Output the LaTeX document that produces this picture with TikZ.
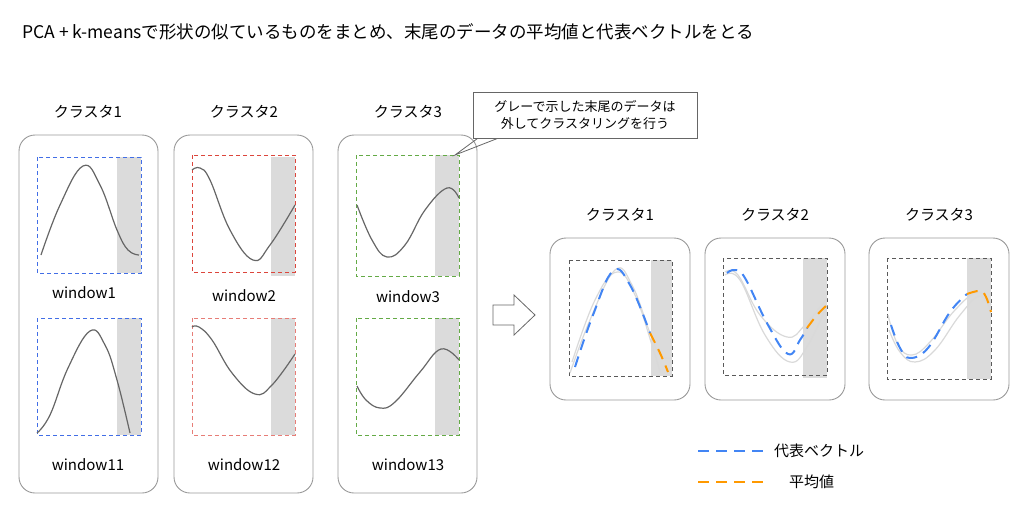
\documentclass[tikz,border=0pt]{standalone}
\usepackage{fontspec}
\setmainfont{Noto Sans CJK JP}
\begin{document}
\begin{tikzpicture}[x=1pt,y=-1pt,
  outer/.style={draw=gray!80,rounded corners=16pt,line width=0.9pt},
  win/.style={dash pattern=on 4pt off 3pt,line width=1pt},
  shade/.style={fill=black!14,draw=none},
  curve/.style={draw=black!60,line width=1.2pt,smooth,tension=0.7},
  faint/.style={draw=black!15,line width=1.2pt,smooth,tension=0.7},
  bluev/.style={color={rgb,255:red,66;green,133;blue,244},line width=2pt,dash pattern=on 11pt off 7pt},
  orangev/.style={color={rgb,255:red,255;green,153;blue,0},line width=2pt,dash pattern=on 11pt off 7pt},
  lbl/.style={font=\fontsize{15}{17}\selectfont,inner sep=0pt},
]
\useasboundingbox (0,0) rectangle (1024,520);
\definecolor{wb}{RGB}{66,110,230}
\definecolor{wr}{RGB}{220,70,60}
\definecolor{wg}{RGB}{100,170,70}
\node[anchor=west,font=\fontsize{17.5}{19}\selectfont,inner sep=0pt] (title) at (22,32) {PCA + k-meansで形状の似ているものをまとめ、末尾のデータの平均値と代表ベクトルをとる};
% left clusters
\draw[outer] (19,135) rectangle (158,493);
\draw[outer] (174,135) rectangle (313,493);
\draw[outer] (338,135) rectangle (477,493);
\node[lbl] (c1) at (88,112) {クラスタ1};
\node[lbl] (c2) at (244,112) {クラスタ2};
\node[lbl] (c3) at (408,112) {クラスタ3};
% windows
\fill[shade] (117,157) rectangle (141,273);
\draw[win,wb] (37,157) rectangle (141,273);
\draw[curve] plot coordinates {(41,255) (60,205) (83,166) (100,185) (117,230) (128,250) (139,255)};
\node[lbl] (w1) at (84,293) {window1};
\fill[shade] (117,318) rectangle (141,435);
\draw[win,wb] (37,318) rectangle (141,435);
\draw[curve] plot coordinates {(37,433) (50,415) (68,368) (90,331) (105,345) (117,380) (130,433)};
\node[lbl] (w11) at (88,465) {window11};
\fill[shade] (271,157) rectangle (295,276);
\draw[win,wr] (192,155) rectangle (295,272);
\draw[curve] plot coordinates {(192,170) (200,168) (210,180) (230,230) (253,260) (270,245) (295,205)};
\node[lbl] (w2) at (244,296) {window2};
\fill[shade] (271,318) rectangle (295,435);
\draw[win,wr!70] (192,318) rectangle (295,435);
\draw[curve] plot coordinates {(192,327) (199,327) (212,340) (232,373) (255,394) (272,385) (295,354)};
\node[lbl] (w12) at (244,465) {window12};
\fill[shade] (435,155) rectangle (459,276);
\draw[win,wg] (356,155) rectangle (459,276);
\draw[curve] plot coordinates {(357,205) (372,240) (387,257) (405,245) (425,210) (447,188) (459,198)};
\node[lbl] (w3) at (408,297) {window3};
\fill[shade] (435,318) rectangle (459,435);
\draw[win,wg] (356,318) rectangle (459,435);
\draw[curve] plot coordinates {(357,386) (366,400) (380,408) (395,402) (420,372) (441,349) (459,360)};
\node[lbl] (w13) at (408,465) {window13};
% callout
\node[draw=black!60,fill=white,line width=0.8pt,minimum width=224pt,minimum height=46pt,align=center,font=\fontsize{13}{17}\selectfont,inner sep=0pt] (call) at (585,115) {グレーで示した末尾のデータは\\外してクラスタリングを行う};
\coordinate (tip) at (455,155);
\draw[black!60,line width=0.8pt] ([xshift=5pt]call.south west) -- (tip) -- ([xshift=25pt]call.south west);
% arrow
\draw[black!60,line width=0.8pt,fill=white] (493,305) -- (514,305) -- (514,295) -- (535,315) -- (514,335) -- (514,325) -- (493,325) -- cycle;
% right clusters
\draw[outer] (550,238) rectangle (690,400);
\draw[outer] (705,238) rectangle (845,400);
\draw[outer] (869,238) rectangle (1009,400);
\node[lbl] (r1) at (620,215) {クラスタ1};
\node[lbl] (r2) at (775,215) {クラスタ2};
\node[lbl] (r3) at (939,215) {クラスタ3};
% r1
\fill[shade] (651,260) rectangle (672,376);
\draw[win,black!65] (569,260) rectangle (672,376);
\draw[faint] plot coordinates {(570,373) (590,320) (615,270) (632,285) (650,333) (660,355) (672,358)};
\draw[faint] plot coordinates {(572,362) (595,300) (617,272) (635,295) (652,345) (660,372)};
\draw[bluev] plot[smooth,tension=0.7] coordinates {(575,367) (593,315) (613,271) (630,285) (650,333)};
\draw[orangev] plot[smooth,tension=0.7] coordinates {(650,333) (660,353) (668,372)};
% r2
\fill[shade] (803,258) rectangle (827,378);
\draw[win,black!65] (723,258) rectangle (827,375);
\draw[faint] plot coordinates {(725,272) (738,275) (760,315) (787,337) (805,325) (827,298)};
\draw[faint] plot coordinates {(725,275) (740,280) (765,335) (790,362) (808,345) (827,305)};
\draw[bluev] plot[smooth,tension=0.7] coordinates {(727,273) (735,270) (745,278) (768,325) (788,354) (800,340) (807,328)};
\draw[orangev] plot[smooth,tension=0.7] coordinates {(807,328) (817,315) (827,305)};
% r3
\fill[shade] (967,258) rectangle (991,379);
\draw[win,black!65] (887,258) rectangle (991,379);
\draw[faint] plot coordinates {(888,315) (898,345) (912,355) (930,342) (955,310) (978,292) (991,305)};
\draw[faint] plot coordinates {(889,330) (900,352) (915,362) (935,350) (960,315) (980,296) (991,312)};
\draw[bluev] plot[smooth,tension=0.7] coordinates {(891,325) (900,348) (910,358) (928,348) (950,312) (967,294)};
\draw[orangev] plot[smooth,tension=0.7] coordinates {(967,294) (980,291) (986,297) (991,312)};
% legend
\coordinate (lb1) at (698,451); \coordinate (lb2) at (764,451);
\draw[bluev] (lb1) -- (lb2);
\node[lbl,anchor=west] (lgb) at (774,451) {代表ベクトル};
\coordinate (lo1) at (698,482); \coordinate (lo2) at (764,482);
\draw[orangev] (lo1) -- (lo2);
\node[lbl,anchor=west] (lgo) at (789,482) {平均値};
\end{tikzpicture}
\end{document}
